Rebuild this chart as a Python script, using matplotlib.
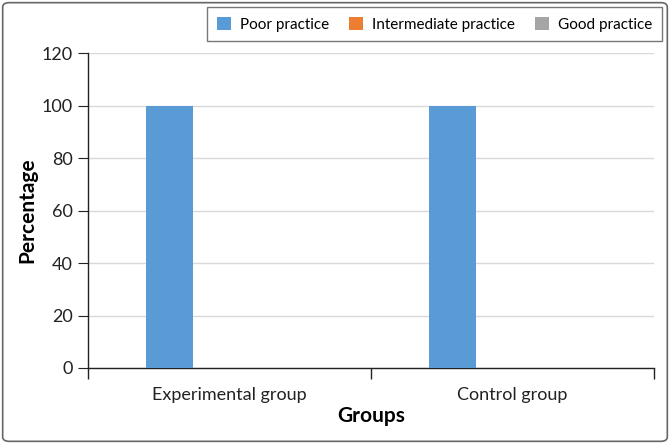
import numpy as np
import matplotlib.pyplot as plt
from matplotlib.patches import FancyBboxPatch
from matplotlib.ticker import FixedLocator

plt.rcParams['font.family'] = ['Lato', 'DejaVu Sans']

groups = ['Experimental group', 'Control group']
series = ['Poor practice', 'Intermediate practice', 'Good practice']
poor = [100, 100]
intermediate = [0, 0]
good = [0, 0]
colors = ['#5B9BD5', '#ED7D31', '#A5A5A5']

fig = plt.figure(figsize=(6.7, 4.44), dpi=100)
W, H = 670, 444
ax = fig.add_axes([88 / W, 1 - 368 / H, (654 - 88) / W, (368 - 53) / H])

x = np.arange(len(groups))
barw = 0.166
step = 0.212
for i, (name, vals) in enumerate(zip(series, [poor, intermediate, good])):
    ax.bar(x + (i - 1) * step, vals, width=barw, color=colors[i], label=name, zorder=3)

ax.set_xlim(-0.5, 1.5)
ax.set_ylim(0, 120)
ax.set_yticks(range(0, 121, 20))
ax.yaxis.grid(True, color='#D9D9D9', linewidth=1, zorder=0)
ax.set_xticks(x)
ax.set_xticklabels(groups, fontsize=13, color='#222222')
ax.xaxis.set_minor_locator(FixedLocator([-0.5, 0.5, 1.5]))
ax.tick_params(axis='x', which='major', length=0, pad=14)
ax.tick_params(axis='x', which='minor', length=8, color='#222222', width=1)
ax.tick_params(axis='y', length=7, color='#222222', labelsize=13, labelcolor='#222222', pad=4)
for s in ['top', 'right']:
    ax.spines[s].set_visible(False)
for s in ['left', 'bottom']:
    ax.spines[s].set_color('#222222')
    ax.spines[s].set_linewidth(1)

ax.set_xlabel('Groups', fontsize=15, fontweight='bold', labelpad=2)
ax.set_ylabel('Percentage', fontsize=15, fontweight='bold', labelpad=3)

leg = fig.legend(loc='upper right', bbox_to_anchor=(662 / W, 1 - 7 / H), ncol=3,
                 fontsize=11, frameon=True, fancybox=False, edgecolor='#555555',
                 handlelength=0.9, handleheight=0.9, columnspacing=1.3, handletextpad=0.6,
                 borderpad=0.65, borderaxespad=0)
leg.get_frame().set_linewidth(1)

border = FancyBboxPatch((0.004, 0.006), 0.992, 0.988, boxstyle='round,pad=0,rounding_size=0.01',
                        transform=fig.transFigure, fill=False, edgecolor='#666666', linewidth=1.2)
fig.patches.append(border)

fig.savefig('out.png', dpi=100)
